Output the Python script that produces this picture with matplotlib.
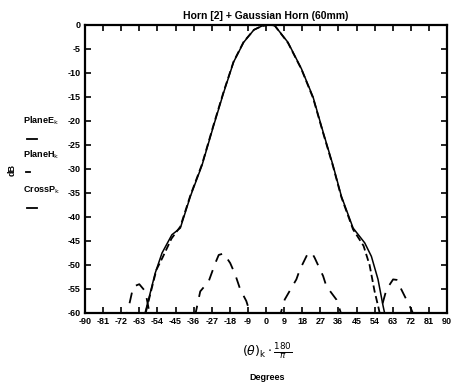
import matplotlib
matplotlib.use("Agg")
import matplotlib.pyplot as plt

# ---- data ----
angles_E = [-62, -58.4, -55.1, -53.4, -51.7, -46.8, -42.6, -37.6, -31.8, -26.0, -21.0, -16.1,
            -11.1, -6, -2.0, 1, 4.3, 10.9, 17.6, 23.4, 28.4, 33.3, 37.5, 43.3, 49.1, 52.4,
            55.7, 58.2, 60]
plane_E = [-63, -57.2, -51.7, -49.6, -47.5, -43.7, -42.3, -35.7, -29.2, -20.9, -14.0, -7.7,
           -3.6, -1.0, -0.2, 0, -0.1, -3.6, -9.1, -15.0, -22.3, -29.2, -35.7, -42.3, -45.4, -48.2,
           -53.0, -58.5, -62]

angles_H = [-61, -57.5, -54.5, -51.5, -47, -42.6, -37.6, -31.8, -26.0, -21.0, -16.1, -11.1,
            -6, -2, 1, 4.3, 10.9, 17.6, 23.4, 28.4, 33.3, 37.5, 43.3, 48.5, 51.5, 54.0, 56.0, 57.5]
plane_H = [-62, -56, -51.0, -48.5, -44.5, -42.0, -35.5, -29.0, -20.7, -13.8, -7.6, -3.5,
           -1.0, -0.2, 0, -0.1, -3.7, -9.2, -15.2, -22.5, -29.4, -35.9, -42.6, -46.0, -50.0,
           -55.5, -59, -62]

angles_C = [-70, -66, -63, -60, -57, -45, -36, -32.7, -28.5, -25.2, -23.5, -21, -17.8, -15.3,
            -12.8, -9.8, -7.5, 0, 7, 9.3, 15.1, 16.8, 20.9, 23, 24.2, 28.4, 30.0, 35.0, 36.7,
            38, 50, 56, 59.9, 63.2, 65, 67.3, 72.3, 74]
cross_P = [-62, -54.5, -54.0, -55.5, -62, -70, -62, -55.5, -53.4, -49.6, -47.9, -47.6, -49.6,
           -52.0, -55.1, -57.5, -60.5, -75, -60.5, -57.2, -53.0, -51.0, -47.5, -47.6, -48.5,
           -52.3, -54.4, -57.2, -59.3, -61, -70, -61, -55.1, -53.0, -53.1, -55.1, -59.3, -61]

x_ticks = list(range(-90, 91, 9))
x_tick_labels = [str(v) for v in x_ticks]
y_ticks = list(range(0, -61, -5))
y_tick_labels = [str(v) for v in y_ticks]

title = "Horn [2] + Gaussian Horn (60mm)"

# ---- figure ----
plt.rcParams['font.family'] = ['Liberation Sans', 'DejaVu Sans']
fig = plt.figure(figsize=(4.58, 3.84), dpi=100)
ax = fig.add_axes([85/458, 1 - 313/384, 362/458, 288/384])

ax.plot(angles_E, plane_E, color='black', lw=1.1, ls='-')
ax.plot(angles_H, plane_H, color='black', lw=1.3, ls=(0, (4, 2)))
ax.plot(angles_C, cross_P, color='black', lw=1.3, ls=(0, (6, 5)))

ax.set_xlim(-90, 90)
ax.set_ylim(-60, 0)
ax.set_xticks(x_ticks)
ax.set_xticklabels(x_tick_labels, fontsize=6.5, fontweight='bold')
ax.set_yticks(y_ticks)
ax.set_yticklabels(y_tick_labels, fontsize=6.5, fontweight='bold')
ax.tick_params(direction='in', length=4, width=1.2, top=True, right=True, pad=3)
for s in ax.spines.values():
    s.set_linewidth(1.6)

ax.set_title(title, fontsize=7.5, fontweight='bold', pad=4)

# left-hand legend (Mathcad style)
fig.text(23/458, 1 - 121/384, r"PlaneE$_{\mathrm{k}}$", fontsize=6.5, fontweight='bold', va='center')
fig.text(23/458, 1 - 155/384, r"PlaneH$_{\mathrm{k}}$", fontsize=6.5, fontweight='bold', va='center')
fig.text(23/458, 1 - 190/384, r"CrossP$_{\mathrm{k}}$", fontsize=6.5, fontweight='bold', va='center')
fig.add_artist(plt.Line2D([27/458, 37/458], [1 - 139/384, 1 - 139/384], color='black', lw=1.3))
fig.add_artist(plt.Line2D([26/458, 30/458], [1 - 172/384, 1 - 172/384], color='black', lw=1.3))
fig.add_artist(plt.Line2D([27/458, 37/458], [1 - 208/384, 1 - 208/384], color='black', lw=1.3))
fig.text(12/458, 1 - 170/384, "dB", fontsize=6.5, fontweight='bold', rotation=90,
         va='center', ha='center')

# x-axis label
fig.text(267/458, 1 - 352/384, r"$(\theta)_{\mathrm{k}}\cdot\frac{180}{\pi}$", fontsize=9,
         ha='center', va='center')
fig.text(267/458, 1 - 377/384, "Degrees", fontsize=6.5, fontweight='bold', ha='center', va='center')

fig.savefig("out.png", dpi=100)
